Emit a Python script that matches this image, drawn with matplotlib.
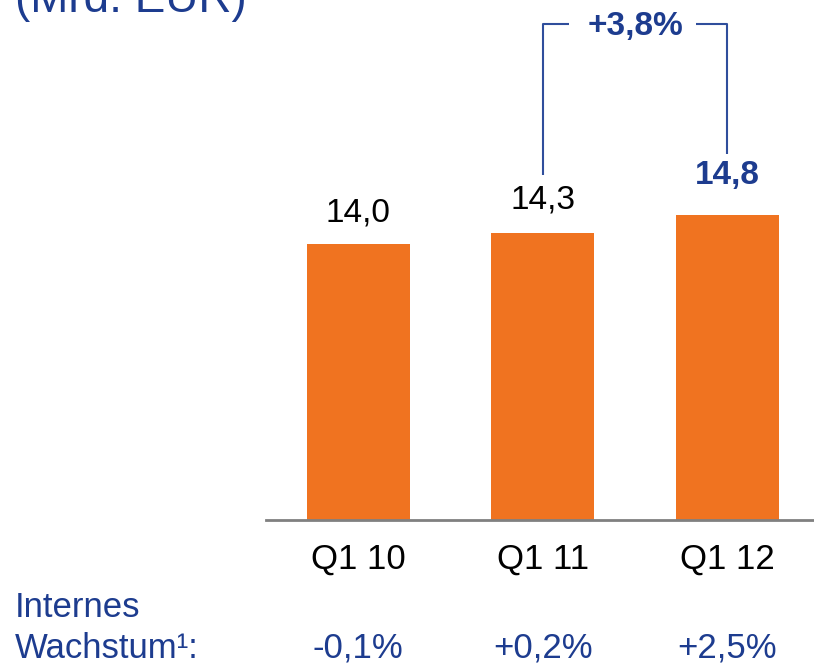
import matplotlib
matplotlib.use("Agg")
import matplotlib.pyplot as plt
import matplotlib.transforms as mtransforms

plt.rcParams['font.family'] = ['Liberation Sans', 'DejaVu Sans']

quarters = ["Q1 10", "Q1 11", "Q1 12"]
revenue = [14.0, 14.3, 14.8]
value_labels = ["14,0", "14,3", "14,8"]
growth_labels = ["-0,1%", "+0,2%", "+2,5%"]
change_label = "+3,8%"

orange = "#F07320"
blue = "#1D3C8F"
W, H = 814, 665

fig = plt.figure(figsize=(W / 100, H / 100), dpi=100)
# axes from the baseline (y=520px) up to the top, from x=266px to the right edge
ax = fig.add_axes([266 / W, 1 - 520 / H, 1 - 266 / W, 520 / H])

x = list(range(len(quarters)))
ax.bar(x, revenue, width=0.56, color=orange, zorder=2)
ax.set_xlim(-0.5, 2.47)
ax.set_ylim(6.41, 20.73)

for s in ['top', 'right', 'left']:
    ax.spines[s].set_visible(False)
ax.spines['bottom'].set_color('#808080')
ax.spines['bottom'].set_linewidth(2)
ax.set_yticks([])
ax.set_xticks(x)
ax.set_xticklabels(quarters, fontsize=25, color='black')
ax.tick_params(axis='x', length=0, pad=16)

# value labels above bars
offsets = [16, 18, 24]
for i, v in enumerate(revenue):
    last = i == len(revenue) - 1
    ax.annotate(value_labels[i], (i, v), xytext=(0, offsets[i]), textcoords='offset pixels',
                ha='center', va='bottom', fontsize=24,
                color=blue if last else 'black',
                fontweight='bold' if last else 'normal')

# bracket between Q1 11 and Q1 12
top = 20.07
lc = '#2F4E9C'
ax.plot([1, 1, 1.14], [revenue[1] + 1.6, top, top], color=lc, lw=1.5, solid_capstyle='butt')
ax.plot([1.83, 2, 2], [top, top, revenue[2] + 1.7], color=lc, lw=1.5, solid_capstyle='butt')
ax.text(1.5, top - 0.06, change_label, ha='center', va='center', fontsize=24,
        fontweight='bold', color=blue)

# internal growth row
trans = mtransforms.blended_transform_factory(ax.transData, fig.transFigure)
for i, g in enumerate(growth_labels):
    ax.text(i, 1 - 658 / H, g, transform=trans, ha='center', va='baseline',
            fontsize=25, color=blue, clip_on=False)

fig.text(15 / W, 1 - 617 / H, "Internes", fontsize=25, color=blue, va='baseline')
fig.text(15 / W, 1 - 658 / H, "Wachstum¹:", fontsize=25, color=blue, va='baseline')

fig.text(15 / W, 1 - 12 / H, "(Mrd. EUR)", fontsize=33, color=blue, va='baseline')

fig.savefig("out.png", dpi=100)
